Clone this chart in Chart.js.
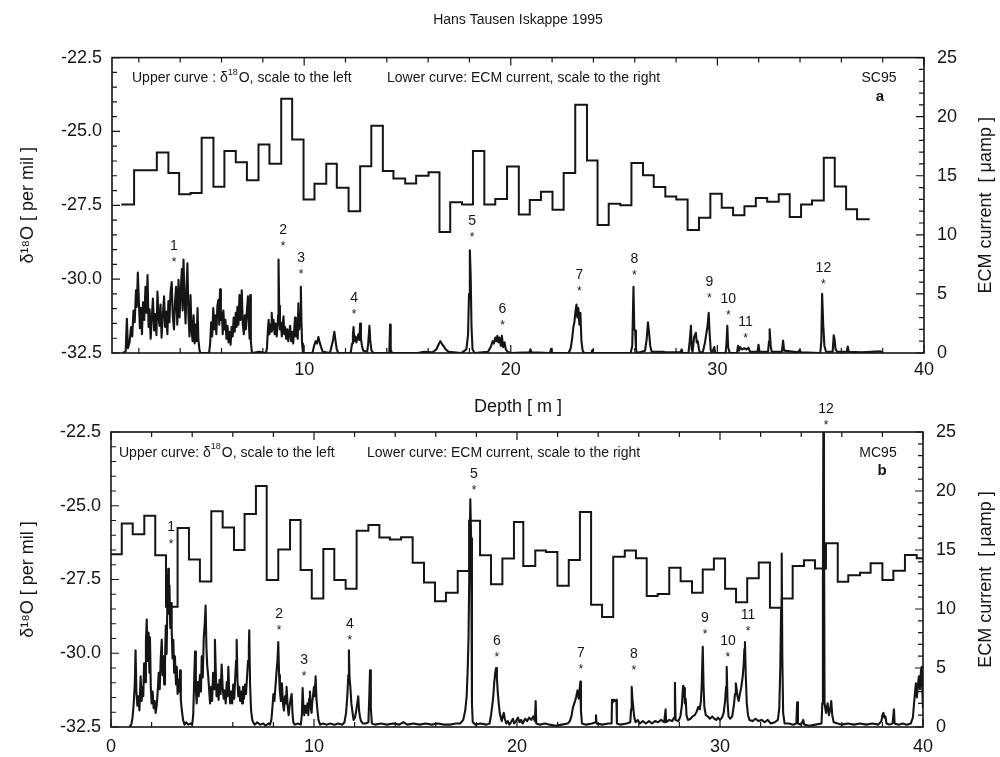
<!DOCTYPE html>
<html>
<head>
<meta charset="utf-8">
<script src="https://cdn.jsdelivr.net/npm/chart.js@4"></script>
<style>
    body { margin: 0; background: #fff; width: 1000px; height: 757px; position: relative; overflow: hidden; }
    canvas { position: absolute; left: 0; }
    #chartA { top: 0; }
    #chartB { top: 395px; }
</style>
</head>
<body>
<canvas id="chartA" width="1000" height="425"></canvas>
<canvas id="chartB" width="1000" height="362"></canvas>
<script>
// axis ticks
const depthTicks = [0, 10, 20, 30, 40];
const o18Ticks = [-32.5, -30, -27.5, -25, -22.5];
const ecmTicks = [0, 5, 10, 15, 20, 25];

// SC95: d18O steps (start depth of each step, last entry is the end of the record)
const o18DepthA = [1.15, 1.77, 2.87, 3.43, 3.95, 4.50, 5.04, 5.61, 6.14, 6.69, 7.23, 7.79, 8.32, 8.89, 9.42, 9.97,
    10.50, 11.07, 11.58, 12.15, 12.71, 13.25, 13.81, 14.32, 14.89, 15.42, 16.02, 16.55, 17.07, 17.64, 18.17, 18.72,
    19.25, 19.82, 20.39, 20.92, 21.46, 22.02, 22.56, 23.12, 23.69, 24.20, 24.74, 25.30, 25.84, 26.40, 26.92, 27.48,
    28.01, 28.56, 29.11, 29.66, 30.21, 30.76, 31.31, 31.86, 32.41, 32.97, 33.50, 34.05, 34.58, 35.15, 35.68, 36.23,
    36.76, 37.37];
const o18A = [-27.47, -26.31, -25.71, -26.41, -27.13, -27.08, -25.21, -26.87, -25.66, -26.04, -26.65, -25.44, -26.09, -23.89, -25.27, -27.30,
    -26.77, -26.09, -26.91, -27.70, -26.18, -24.81, -26.34, -26.59, -26.76, -26.50, -26.38, -28.40, -27.40, -27.47, -25.66, -27.47,
    -27.29, -26.19, -27.81, -27.32, -27.04, -27.65, -26.41, -24.10, -25.98, -28.17, -27.45, -27.50, -26.07, -26.48, -26.88, -27.20,
    -27.30, -28.34, -27.92, -27.11, -27.58, -27.84, -27.53, -27.25, -27.38, -27.13, -27.90, -27.47, -27.34, -25.89, -26.86, -27.63,
    -27.97, -27.97];

// MC95: d18O steps
const o18DepthB = [0.00, 0.53, 1.07, 1.64, 2.18, 2.71, 3.28, 3.84, 4.38, 4.94, 5.50, 6.06, 6.58, 7.14, 7.67, 8.24,
    8.82, 9.34, 9.89, 10.46, 11.00, 11.56, 12.10, 12.68, 13.22, 13.74, 14.29, 14.86, 15.42, 15.96, 16.50, 17.08,
    17.64, 18.18, 18.72, 19.28, 19.85, 20.31, 20.90, 21.43, 21.99, 22.55, 23.10, 23.65, 24.19, 24.74, 25.31, 25.86,
    26.39, 26.93, 27.50, 28.06, 28.62, 29.15, 29.70, 30.25, 30.79, 31.34, 31.91, 32.46, 33.04, 33.58, 34.14, 34.68,
    35.22, 35.80, 36.32, 36.90, 37.42, 38.00, 38.54, 39.11, 39.69, 40.00];
const o18B = [-26.64, -25.60, -25.97, -25.34, -26.68, -28.42, -25.75, -26.82, -27.57, -25.19, -25.74, -26.50, -25.28, -24.33, -27.52, -26.48,
    -25.48, -27.18, -28.14, -26.47, -27.52, -27.81, -25.85, -25.65, -26.08, -26.14, -26.07, -26.93, -27.60, -28.24, -27.95, -27.21,
    -25.51, -26.68, -27.66, -26.79, -25.55, -27.04, -26.52, -26.57, -27.71, -26.84, -25.21, -28.36, -28.77, -26.73, -26.52, -26.78,
    -28.06, -27.99, -27.10, -27.56, -27.95, -27.16, -26.79, -27.81, -28.27, -27.46, -26.92, -28.46, -28.14, -27.04, -26.85, -27.13,
    -26.27, -27.58, -27.36, -27.27, -26.95, -27.52, -27.20, -26.67, -26.78, -26.78];

// SC95: ECM current [depth, uamp]
const ecmA = [
    [1.20, 0], [1.36, 0.1], [1.42, 2.9], [1.47, 0.4], [1.55, 0.9], [1.62, 2.2], [1.68, 1.4], [1.74, 3.6], [1.80, 2.6],
    [1.86, 5.3], [1.90, 3.9], [1.95, 6.8], [2.00, 4.4], [2.05, 2.1], [2.10, 3.8], [2.15, 1.6], [2.20, 4.3], [2.26, 2.8],
    [2.32, 5.6], [2.37, 3.4], [2.42, 6.6], [2.47, 2.2], [2.52, 3.7], [2.57, 1.2], [2.62, 2.8], [2.68, 4.6], [2.74, 1.9],
    [2.80, 3.3], [2.85, 1.5], [2.90, 5.2], [2.95, 3.1], [3.00, 2.3], [3.05, 4.1], [3.10, 1.3], [3.15, 2.9], [3.22, 4.8],
    [3.27, 2.2], [3.32, 3.5], [3.38, 1.6], [3.43, 4.4], [3.48, 2.6], [3.53, 5.1], [3.59, 6.0], [3.64, 3.2], [3.70, 2.0],
    [3.75, 4.3], [3.80, 5.6], [3.86, 2.4], [3.92, 6.2], [3.97, 3.0], [4.03, 5.4], [4.08, 7.1], [4.12, 3.6], [4.16, 7.9],
    [4.21, 4.8], [4.26, 2.5], [4.30, 5.0], [4.35, 7.6], [4.40, 3.2], [4.45, 1.4], [4.50, 4.9], [4.55, 2.0], [4.60, 1.0],
    [4.65, 3.2], [4.70, 0.8], [4.75, 2.4], [4.80, 1.0], [4.84, 3.8], [4.88, 1.2], [4.93, 0.3], [4.97, 0],
    [5.40, 0], [5.45, 0.8], [5.50, 2.6], [5.55, 1.4], [5.60, 3.8], [5.65, 2.0], [5.70, 3.2], [5.75, 1.6], [5.80, 4.0],
    [5.85, 4.5], [5.89, 2.4], [5.93, 5.4], [5.97, 2.8], [6.02, 3.4], [6.06, 1.6], [6.09, 3.6], [6.14, 2.0], [6.19, 2.8],
    [6.24, 1.2], [6.29, 2.3], [6.34, 0.9], [6.39, 1.8], [6.44, 0.7], [6.49, 2.2], [6.54, 1.4], [6.59, 3.0], [6.64, 1.8],
    [6.69, 3.4], [6.73, 2.2], [6.77, 3.9], [6.82, 2.4], [6.87, 4.9], [6.92, 2.8], [6.98, 5.3], [7.03, 2.4], [7.08, 1.6],
    [7.13, 3.2], [7.18, 2.0], [7.23, 3.6], [7.28, 4.8], [7.32, 2.6], [7.36, 1.2], [7.39, 4.9], [7.42, 1.0], [7.46, 0.2],
    [7.50, 0], [7.80, 0.1], [8.00, 0.05],
    [8.15, 0], [8.20, 0.4], [8.24, 1.8], [8.28, 2.8], [8.32, 1.6], [8.36, 2.4], [8.40, 1.8], [8.43, 3.4], [8.47, 2.0],
    [8.52, 2.8], [8.57, 1.6], [8.62, 2.5], [8.67, 1.4], [8.71, 2.2], [8.74, 3.2], [8.76, 7.9], [8.79, 4.0], [8.83, 2.0],
    [8.87, 2.6], [8.92, 1.4], [8.96, 2.4], [9.00, 3.1], [9.04, 1.6], [9.08, 2.2], [9.13, 1.2], [9.18, 2.0], [9.23, 1.0],
    [9.28, 1.8], [9.32, 2.3], [9.37, 1.0], [9.42, 1.8], [9.47, 0.8], [9.52, 2.0], [9.56, 3.0], [9.60, 1.4], [9.65, 2.4],
    [9.69, 1.2], [9.72, 4.2], [9.76, 2.0], [9.80, 3.0], [9.84, 5.6], [9.87, 2.6], [9.90, 0.8], [9.94, 0.1], [9.98, 0],
    [10.40, 0], [10.48, 0.6], [10.55, 1.0], [10.62, 0.8], [10.69, 1.35], [10.75, 0.9], [10.82, 0.5], [10.90, 0.1],
    [11.25, 0], [11.32, 0.5], [11.40, 1.1], [11.46, 1.8], [11.52, 1.0], [11.58, 0.3], [11.65, 0],
    [12.25, 0], [12.32, 0.8], [12.36, 1.6], [12.39, 2.2], [12.43, 1.0], [12.48, 1.4], [12.53, 0.9], [12.58, 1.3],
    [12.63, 1.6], [12.67, 1.1], [12.71, 2.5], [12.75, 1.2], [12.80, 0.6], [12.86, 0.2], [13.05, 0.1], [13.10, 0.8],
    [13.16, 2.3], [13.20, 1.0], [13.26, 0.2], [13.35, 0], [14.12, 0], [14.16, 2.4], [14.19, 0.3], [14.25, 0],
    [15.50, 0], [15.80, 0.1], [16.20, 0.05], [16.40, 0.3], [16.50, 0.7], [16.59, 1.0], [16.66, 0.8], [16.74, 0.6],
    [16.85, 0.3], [17.00, 0.1], [17.60, 0], [17.85, 0.3], [17.93, 1.5], [17.98, 5.0], [18.02, 8.7], [18.06, 6.5],
    [18.10, 2.2], [18.15, 0.3], [18.25, 0], [18.90, 0.1], [19.05, 0.6], [19.12, 1.0], [19.18, 0.8], [19.25, 1.3],
    [19.30, 1.0], [19.35, 1.45], [19.40, 0.9], [19.45, 1.3], [19.52, 0.6], [19.57, 1.45], [19.63, 0.5], [19.70, 0.9],
    [19.76, 0.3], [19.85, 0.1], [20.00, 0], [20.90, 0.05], [20.95, 0.3], [21.00, 0.05], [21.90, 0], [21.95, 0.35],
    [22.00, 0], [22.80, 0], [22.90, 0.4], [22.97, 1.2], [23.03, 2.2], [23.08, 2.6], [23.13, 3.5], [23.18, 4.1],
    [23.22, 3.0], [23.27, 3.8], [23.32, 2.4], [23.37, 3.4], [23.42, 1.0], [23.48, 0.2], [23.55, 0], [23.90, 0],
    [23.95, 0.25], [24.00, 0], [25.80, 0], [25.88, 0.6], [25.94, 5.6], [25.98, 2.0], [26.02, 1.9], [26.06, 0.4],
    [26.10, 0], [26.50, 0.2], [26.58, 1.2], [26.64, 2.6], [26.70, 1.6], [26.75, 0.6], [26.82, 0.1], [27.40, 0.1],
    [27.50, 0.05], [28.20, 0.05], [28.27, 0.3], [28.32, 0], [28.60, 0], [28.66, 1.0], [28.72, 2.3], [28.76, 0.3],
    [28.80, 0.1], [28.88, 1.4], [28.96, 1.7], [29.00, 0.9], [29.05, 1.0], [29.10, 0.4], [29.15, 0], [29.30, 0.1],
    [29.40, 0.9], [29.46, 1.6], [29.52, 2.2], [29.58, 3.4], [29.62, 1.8], [29.68, 0.2], [29.74, 0], [29.85, 0.5],
    [29.90, 0], [30.40, 0], [30.44, 0.8], [30.48, 2.3], [30.52, 0.5], [30.60, 0], [30.95, 0], [31.00, 0.6],
    [31.05, 0.2], [31.10, 0.5], [31.20, 0.3], [31.30, 0.4], [31.40, 0.3], [31.50, 0.45], [31.58, 0.1], [31.94, 0.1],
    [31.99, 0.7], [32.04, 0.1], [32.45, 0.1], [32.50, 1.0], [32.53, 2.0], [32.58, 0.6], [32.63, 0.1], [33.12, 0.1],
    [33.18, 1.05], [33.23, 0.2], [33.90, 0.05], [33.98, 0.25], [34.05, 0.05], [34.98, 0], [35.03, 1.0],
    [35.07, 5.0], [35.12, 2.5], [35.18, 0.6], [35.26, 0.1], [35.58, 0.1], [35.63, 1.5], [35.67, 1.2], [35.72, 0.3],
    [35.80, 0.1], [36.26, 0.1], [36.31, 0.55], [36.36, 0.1], [37.00, 0.05], [37.90, 0.15], [38.00, 0]
];

// MC95: ECM current [depth, uamp]
const ecmB = [
    [0.90, 0], [1.00, 0.2], [1.06, 0.8], [1.12, 2.0], [1.17, 3.6], [1.21, 6.5], [1.25, 3.0], [1.30, 1.8], [1.35, 2.6],
    [1.40, 1.4], [1.46, 4.3], [1.51, 2.2], [1.55, 3.4], [1.59, 2.6], [1.63, 5.4], [1.68, 3.8], [1.72, 7.2], [1.76, 9.1],
    [1.80, 5.6], [1.85, 8.0], [1.89, 4.6], [1.92, 7.6], [1.96, 3.4], [2.00, 2.0], [2.05, 3.0], [2.10, 1.6], [2.15, 2.2],
    [2.20, 1.2], [2.25, 1.8], [2.30, 3.0], [2.35, 4.6], [2.40, 3.2], [2.45, 5.8], [2.50, 7.4], [2.54, 4.4], [2.58, 6.0],
    [2.62, 3.6], [2.66, 5.5], [2.70, 8.6], [2.74, 6.2], [2.78, 11.0], [2.82, 13.4], [2.85, 9.6], [2.88, 12.0],
    [2.92, 8.4], [2.96, 10.5], [2.99, 8.2], [3.03, 5.8], [3.07, 7.4], [3.11, 4.6], [3.15, 6.0], [3.20, 3.6], [3.24, 5.1],
    [3.28, 2.8], [3.33, 4.0], [3.37, 3.0], [3.40, 4.8], [3.44, 2.3], [3.49, 1.4], [3.55, 0.6], [3.62, 0.2], [3.70, 0.4],
    [3.80, 0.2], [3.92, 0.3], [4.00, 0.2], [4.05, 1.0], [4.09, 3.5], [4.14, 6.4], [4.18, 3.2], [4.22, 2.0], [4.27, 3.8],
    [4.32, 2.6], [4.38, 4.4], [4.43, 3.0], [4.47, 6.0], [4.52, 4.2], [4.57, 7.6], [4.62, 8.8], [4.66, 10.3], [4.70, 6.8],
    [4.74, 5.2], [4.79, 4.3], [4.84, 3.0], [4.88, 2.0], [4.93, 3.4], [4.98, 2.2], [5.03, 4.6], [5.08, 3.2], [5.12, 7.4],
    [5.16, 4.8], [5.20, 2.6], [5.25, 3.6], [5.30, 2.3], [5.35, 4.0], [5.40, 2.8], [5.45, 5.3], [5.50, 3.4], [5.55, 2.4],
    [5.60, 3.1], [5.65, 2.0], [5.70, 3.8], [5.74, 2.6], [5.78, 5.1], [5.82, 3.2], [5.87, 2.0], [5.92, 3.0], [5.97, 2.0],
    [6.02, 3.6], [6.07, 2.4], [6.12, 4.2], [6.16, 5.6], [6.19, 7.4], [6.23, 4.0], [6.27, 2.6], [6.32, 3.4], [6.36, 2.2],
    [6.41, 3.0], [6.46, 2.0], [6.50, 3.4], [6.55, 2.4], [6.60, 3.6], [6.65, 2.8], [6.70, 4.2], [6.75, 5.6], [6.79, 6.8],
    [6.81, 8.2], [6.85, 3.6], [6.90, 1.4], [6.96, 0.6], [7.03, 0.3], [7.09, 0.2], [7.20, 0.4], [7.35, 0.2], [7.50, 0.3],
    [7.62, 0.1], [7.75, 0.3], [7.83, 0.2], [7.90, 0.6], [7.95, 1.6], [8.00, 2.8], [8.05, 2.2], [8.10, 3.4], [8.15, 4.6],
    [8.20, 5.6], [8.24, 7.2], [8.28, 4.4], [8.32, 3.0], [8.37, 2.2], [8.42, 3.7], [8.47, 2.0], [8.52, 1.4], [8.57, 2.6],
    [8.62, 2.0], [8.65, 3.4], [8.70, 1.8], [8.75, 1.0], [8.80, 1.8], [8.85, 2.4], [8.90, 2.8], [8.94, 1.2], [8.98, 0.4],
    [9.05, 0.2], [9.20, 0.3], [9.35, 0.2], [9.40, 1.0], [9.44, 3.3], [9.48, 1.6], [9.52, 1.0], [9.56, 1.8], [9.60, 1.4],
    [9.64, 1.2], [9.68, 2.0], [9.72, 1.0], [9.76, 2.4], [9.80, 3.0], [9.84, 1.6], [9.88, 1.2], [9.92, 2.2], [9.96, 2.8],
    [10.00, 3.4], [10.04, 2.6], [10.08, 4.3], [10.12, 2.4], [10.17, 1.4], [10.22, 0.6], [10.30, 0.2], [10.45, 0.3],
    [10.60, 0.2], [10.80, 0.3], [11.00, 0.2], [11.20, 0.3], [11.40, 0.2], [11.50, 0.4], [11.58, 1.2], [11.64, 2.6],
    [11.69, 4.4], [11.72, 6.5], [11.75, 4.2], [11.79, 3.4], [11.84, 2.0], [11.90, 1.2], [11.95, 0.6], [12.02, 0.8],
    [12.08, 1.4], [12.13, 2.0], [12.18, 2.6], [12.22, 1.4], [12.27, 0.8], [12.32, 0.5], [12.40, 0.3], [12.55, 0.3],
    [12.68, 0.4], [12.72, 2.4], [12.76, 4.8], [12.80, 1.6], [12.85, 0.3], [13.00, 0.2], [13.30, 0.3], [13.60, 0.2],
    [13.90, 0.3], [14.20, 0.2], [14.40, 0.4], [14.60, 0.2], [14.90, 0.3], [15.20, 0.2], [15.50, 0.3], [15.80, 0.2],
    [16.10, 0.3], [16.40, 0.2], [16.70, 0.2], [17.00, 0.3], [17.20, 0.3], [17.35, 0.6], [17.45, 1.4], [17.52, 2.6],
    [17.57, 4.8], [17.61, 7.4], [17.65, 13.0], [17.70, 19.3], [17.74, 16.0], [17.78, 2.0], [17.82, 0.4], [17.95, 0.2],
    [18.20, 0.3], [18.50, 0.2], [18.65, 0.3], [18.72, 1.0], [18.78, 1.8], [18.83, 2.6], [18.88, 3.8], [18.93, 4.6],
    [18.97, 5.0], [19.01, 4.2], [19.05, 3.0], [19.10, 2.0], [19.15, 1.2], [19.20, 0.8], [19.25, 0.5], [19.30, 0.9],
    [19.35, 1.2], [19.40, 0.7], [19.47, 0.3], [19.55, 0.5], [19.62, 0.2], [19.70, 0.4], [19.80, 0.7], [19.86, 0.3],
    [19.95, 0.5], [20.05, 0.8], [20.12, 0.4], [20.20, 0.6], [20.28, 0.3], [20.40, 0.7], [20.50, 0.5], [20.60, 0.8],
    [20.70, 0.6], [20.80, 0.9], [20.88, 0.5], [20.92, 2.2], [20.95, 0.3], [21.10, 0.2], [21.40, 0.3], [21.60, 0.2],
    [21.90, 0.1], [22.20, 0.2], [22.50, 0.3], [22.60, 0.5], [22.68, 0.9], [22.75, 1.6], [22.82, 2.0], [22.86, 2.2],
    [22.92, 2.6], [22.98, 3.1], [23.04, 2.4], [23.09, 3.3], [23.12, 3.85], [23.15, 1.4], [23.20, 0.3], [23.40, 0.2],
    [23.70, 0.3], [23.86, 0.4], [23.89, 1.0], [23.92, 0.3], [24.20, 0.2], [24.50, 0.3], [24.66, 0.3], [24.68, 2.3],
    [24.72, 2.1], [24.78, 2.3], [24.84, 2.2], [24.90, 2.3], [24.92, 0.3], [25.10, 0.2], [25.40, 0.3], [25.58, 0.4],
    [25.62, 1.5], [25.65, 3.4], [25.69, 2.3], [25.73, 1.6], [25.78, 0.8], [25.84, 0.4], [25.95, 0.6], [26.05, 0.3],
    [26.20, 0.5], [26.35, 0.3], [26.50, 0.5], [26.65, 0.3], [26.80, 0.5], [26.95, 0.4], [27.10, 0.6], [27.25, 0.4],
    [27.32, 1.5], [27.35, 0.4], [27.50, 0.6], [27.65, 0.5], [27.74, 0.8], [27.78, 3.75], [27.81, 0.6], [27.95, 0.5],
    [28.05, 0.9], [28.12, 1.8], [28.17, 3.2], [28.19, 3.5], [28.23, 3.3], [28.27, 2.0], [28.31, 2.4], [28.35, 1.0],
    [28.42, 0.6], [28.55, 0.7], [28.65, 0.9], [28.75, 1.0], [28.85, 1.3], [28.93, 1.7], [29.00, 1.5], [29.06, 2.2],
    [29.10, 3.6], [29.15, 6.8], [29.19, 3.4], [29.23, 1.7], [29.30, 1.0], [29.40, 0.9], [29.50, 0.7], [29.62, 0.9],
    [29.72, 0.7], [29.82, 0.6], [29.90, 0.8], [30.00, 0.6], [30.10, 0.8], [30.18, 1.2], [30.25, 2.2], [30.30, 3.4],
    [30.33, 5.1], [30.37, 2.2], [30.42, 0.9], [30.50, 0.7], [30.60, 0.9], [30.68, 1.8], [30.74, 2.8], [30.78, 3.7],
    [30.82, 3.2], [30.86, 2.6], [30.92, 2.2], [30.98, 2.8], [31.05, 3.4], [31.12, 4.3], [31.17, 5.4], [31.20, 6.6],
    [31.23, 7.2], [31.27, 4.3], [31.32, 2.0], [31.38, 1.0], [31.45, 0.6], [31.60, 0.5], [31.75, 0.7], [31.90, 0.5],
    [32.05, 0.6], [32.20, 0.4], [32.35, 0.6], [32.50, 0.3], [32.70, 0.4], [32.85, 0.6], [32.92, 1.6], [32.97, 5.0],
    [33.01, 10.0], [33.04, 14.7], [33.07, 6.0], [33.11, 1.2], [33.18, 0.3], [33.40, 0.3], [33.60, 0.2], [33.76, 0.3],
    [33.80, 2.1], [33.84, 0.3], [34.00, 0.2], [34.10, 0.6], [34.15, 0.2], [34.40, 0.1], [34.70, 0.2], [35.00, 0.3],
    [35.04, 2.0], [35.07, 12.0], [35.09, 25.0], [35.12, 20.0], [35.15, 2.0], [35.22, 1.2], [35.30, 2.0], [35.36, 1.0],
    [35.42, 1.4], [35.48, 2.2], [35.53, 1.0], [35.60, 0.4], [35.80, 0.3], [36.00, 0.2], [36.30, 0.3], [36.60, 0.2],
    [36.90, 0.3], [37.20, 0.2], [37.50, 0.3], [37.80, 0.2], [37.95, 0.5], [38.00, 1.0], [38.05, 1.2], [38.10, 0.8],
    [38.15, 0.9], [38.20, 0.3], [38.35, 0.2], [38.50, 0.3], [38.57, 1.5], [38.60, 0.3], [38.80, 0.2], [39.00, 0.3],
    [39.20, 0.2], [39.40, 0.3], [39.50, 0.8], [39.55, 1.8], [39.60, 2.8], [39.65, 3.7], [39.70, 2.5], [39.75, 3.6],
    [39.80, 4.3], [39.85, 3.2], [39.90, 4.8], [39.94, 5.1], [39.97, 3.0], [40.00, 1.6]
];

// numbered events (asterisk position: depth, ECM level)
const eventDepthA = [3.70, 8.98, 9.85, 12.42, 18.13, 19.60, 23.32, 25.98, 29.61, 30.53, 31.36, 35.13];
const eventEcmA = [7.97, 9.3, 6.95, 3.56, 10.1, 2.63, 5.5, 6.86, 4.9, 3.5, 1.5, 6.1];
const eventDepthB = [2.96, 8.28, 9.51, 11.77, 17.88, 19.01, 23.15, 25.76, 29.26, 30.39, 31.38, 35.22];
const eventEcmB = [15.8, 8.47, 4.58, 7.63, 20.3, 6.19, 5.17, 5.08, 8.1, 6.19, 8.4, 25.85];

const ink = '#151515';
const family = '"Liberation Sans", Arial, Helvetica, sans-serif';

function textWithSup(ctx, x, y, parts) {
    // parts: [text, isSuperscript]
    let cx = x;
    for (const [t, sup] of parts) {
        ctx.font = sup ? '9px ' + family : '14px ' + family;
        ctx.fillText(t, cx, sup ? y - 6 : y);
        cx += ctx.measureText(t).width + (sup ? 1 : 0);
    }
}

const panelDecor = {
    id: 'panelDecor',
    afterDraw(chart, args, opt) {
        const { ctx, chartArea: a, scales: { x, yL, yR } } = chart;
        ctx.save();
        ctx.strokeStyle = ink;
        ctx.fillStyle = ink;

        // inward tick marks on all four sides
        ctx.lineWidth = 1.2;
        ctx.beginPath();
        for (let i = 0; i <= 20; i++) {
            const v = i * 2;
            if (v < x.min) continue;
            const px = x.getPixelForValue(v);
            const len = v % 10 === 0 ? 8 : 5;
            ctx.moveTo(px, a.bottom); ctx.lineTo(px, a.bottom - len);
            ctx.moveTo(px, a.top); ctx.lineTo(px, a.top + len);
        }
        for (let i = 0; i <= 20; i++) {
            const py = yL.getPixelForValue(-32.5 + i * 0.5);
            const len = i % 5 === 0 ? 8 : 5;
            ctx.moveTo(a.left, py); ctx.lineTo(a.left + len, py);
        }
        for (let i = 0; i <= 25; i++) {
            const py = yR.getPixelForValue(i);
            const len = i % 5 === 0 ? 8 : 5;
            ctx.moveTo(a.right, py); ctx.lineTo(a.right - len, py);
        }
        ctx.stroke();
        ctx.lineWidth = 1.6;
        ctx.strokeRect(a.left, a.top, a.width, a.height);

        // right axis title, reading upwards like the left one
        ctx.save();
        ctx.translate(yR.right - 14, (a.top + a.bottom) / 2);
        ctx.rotate(-Math.PI / 2);
        ctx.textAlign = 'center';
        ctx.textBaseline = 'middle';
        ctx.font = '18px ' + family;
        ctx.fillText('ECM current  [ μamp ]', 0, 0);
        ctx.restore();

        // curve notes
        ctx.textBaseline = 'middle';
        ctx.textAlign = 'left';
        textWithSup(ctx, a.left + opt.upperX, a.top + 21, [[opt.upperLead + 'δ', false], ['18', true], ['O, scale to the left', false]]);
        ctx.font = '14px ' + family;
        ctx.fillText('Lower curve: ECM current, scale to the right', a.left + opt.lowerX, a.top + 21);
        ctx.textAlign = 'center';
        ctx.fillText(opt.core, a.right - 45, a.top + 21);
        ctx.font = 'bold 15px ' + family;
        ctx.fillText(opt.tag, a.right - 44 + opt.tagShift, a.top + 39);

        // numbered events
        opt.depths.forEach((d, i) => {
            const px = x.getPixelForValue(d);
            const py = yR.getPixelForValue(opt.levels[i]);
            ctx.font = '14px ' + family;
            ctx.textBaseline = 'middle';
            ctx.fillText(String(i + 1), px, py - 13);
            ctx.font = '12px ' + family;
            ctx.textBaseline = 'alphabetic';
            ctx.fillText('*', px, py + 7);
        });
        ctx.restore();
    }
};

function panelChart(id, p) {
    const tickFont = { family: family, size: 18 };
    return new Chart(document.getElementById(id), {
        type: 'line',
        data: {
            datasets: [
                {
                    label: 'δ18O',
                    data: p.o18Depth.map((d, i) => ({ x: d, y: p.o18[i] })),
                    yAxisID: 'yL',
                    stepped: true,
                    borderColor: ink,
                    borderWidth: 2,
                    pointRadius: 0,
                },
                {
                    label: 'ECM',
                    data: p.ecm.map(([d, v]) => ({ x: d, y: v })),
                    yAxisID: 'yR',
                    borderColor: ink,
                    borderWidth: 2.1,
                    borderJoinStyle: 'round',
                    pointRadius: 0,
                },
            ],
        },
        options: {
            responsive: false,
            animation: false,
            layout: { padding: { top: p.top, left: 0, right: 0, bottom: 0 } },
            plugins: {
                legend: { display: false },
                tooltip: { enabled: false },
                title: p.title ? {
                    display: true,
                    text: p.title,
                    fullSize: false,
                    color: ink,
                    font: { family: family, size: 14, weight: 'normal' },
                    padding: { top: 12, bottom: 28.8 },
                } : { display: false },
                panelDecor: p.decor,
            },
            scales: {
                x: {
                    type: 'linear',
                    min: p.xMin,
                    max: 40,
                    grid: { display: false, drawTicks: false },
                    border: { display: false },
                    afterBuildTicks: s => { s.ticks = depthTicks.filter(v => v >= p.xMin).map(v => ({ value: v })); },
                    afterFit: s => { s.height = p.xHeight; },
                    ticks: { color: ink, font: tickFont, padding: p.xPad, autoSkip: false, maxRotation: 0 },
                    title: p.xTitle ? {
                        display: true,
                        text: 'Depth [ m ]',
                        color: ink,
                        font: { family: family, size: 18 },
                        padding: { top: 0, bottom: 7 },
                    } : { display: false },
                },
                yL: {
                    type: 'linear',
                    position: 'left',
                    min: -32.5,
                    max: -22.5,
                    grid: { display: false, drawTicks: false },
                    border: { display: false },
                    afterBuildTicks: s => { s.ticks = o18Ticks.map(v => ({ value: v })); },
                    afterFit: s => { s.width = p.left; },
                    ticks: { color: ink, font: tickFont, padding: 10, callback: v => v.toFixed(1) },
                    title: {
                        display: true,
                        text: 'δ¹⁸O [ per mil ]',
                        color: ink,
                        font: { family: family, size: 18 },
                        padding: { top: 17, bottom: 0 },
                    },
                },
                yR: {
                    type: 'linear',
                    position: 'right',
                    min: 0,
                    max: 25,
                    grid: { display: false, drawTicks: false },
                    border: { display: false },
                    afterBuildTicks: s => { s.ticks = ecmTicks.map(v => ({ value: v })); },
                    afterFit: s => { s.width = 1000 - p.right; },
                    ticks: { color: ink, font: tickFont, padding: 13 },
                },
            },
        },
        plugins: [panelDecor],
    });
}

panelChart('chartA', {
    title: 'Hans Tausen Iskappe 1995',
    top: 0,
    xMin: 0.7,
    left: 112,
    right: 924,
    xHeight: 72,
    xPad: 6,
    xTitle: true,
    o18Depth: o18DepthA,
    o18: o18A,
    ecm: ecmA,
    decor: { upperLead: 'Upper curve : ', upperX: 20, lowerX: 275, core: 'SC95', tag: 'a', tagShift: 0,
        depths: eventDepthA, levels: eventEcmA },
});

panelChart('chartB', {
    title: null,
    top: 37,
    xMin: 0,
    left: 111,
    right: 923,
    xHeight: 30,
    xPad: 9,
    xTitle: false,
    o18Depth: o18DepthB,
    o18: o18B,
    ecm: ecmB,
    decor: { upperLead: 'Upper curve: ', upperX: 8, lowerX: 256, core: 'MC95', tag: 'b', tagShift: 3,
        depths: eventDepthB, levels: eventEcmB },
});
</script>
</body>
</html>
